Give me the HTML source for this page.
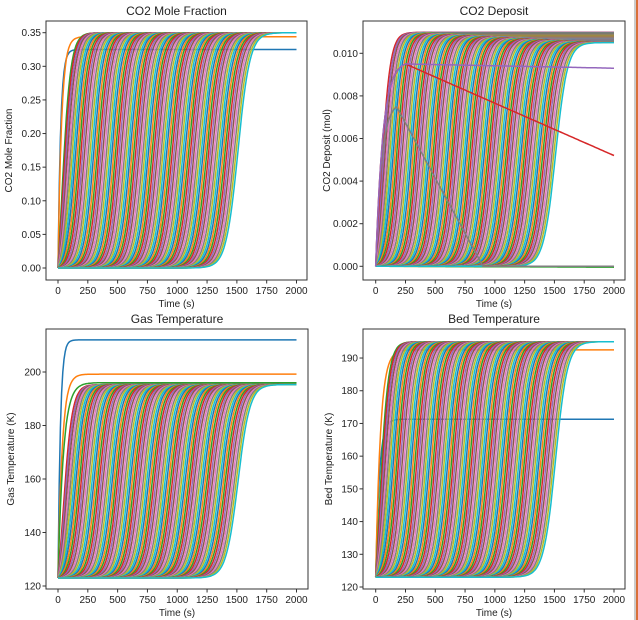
<!DOCTYPE html>
<html><head><meta charset="utf-8"><style>
html,body{margin:0;padding:0;background:#fff;width:638px;height:620px;overflow:hidden}
svg{display:block;font-family:"Liberation Sans","DejaVu Sans",sans-serif}
</style></head><body>
<svg id="s" width="638" height="620" xmlns="http://www.w3.org/2000/svg"></svg>
<script>
const S=document.getElementById('s');const NS='http://www.w3.org/2000/svg';
function el(n,a,t){const e=document.createElementNS(NS,n);for(const k in a)e.setAttribute(k,a[k]);if(t!==undefined)e.textContent=t;S.appendChild(e);return e;}
const C=['#1f77b4','#ff7f0e','#2ca02c','#d62728','#9467bd','#8c564b','#e377c2','#7f7f7f','#bcbd22','#17becf'];
const N=100;
function sig(x){return 1/(1+Math.exp(-x));}
function g(t,i){const m=-5+i*15.3, s=38+12*(i/N);const a=sig((0-m)/s);return (sig((t-m)/s)-a)/(1-a);}
function panel(P){
  const {L,R,T,B,x0,x2,yv,title,ylab,yt,fmt,fn,id,extra}=P;
  const px=t=>x0+t/2000*(x2-x0);
  const cp=el('clipPath',{id:id});const r=document.createElementNS(NS,'rect');r.setAttribute('x',L);r.setAttribute('y',T);r.setAttribute('width',R-L);r.setAttribute('height',B-T);cp.appendChild(r);
  const gr=el('g',{'clip-path':'url(#'+id+')'});
  const add=(d,c)=>{const p=document.createElementNS(NS,'path');p.setAttribute('d',d);p.setAttribute('fill','none');p.setAttribute('stroke',c);p.setAttribute('stroke-width','1.5');gr.appendChild(p);};
  for(let i=0;i<N;i++){
    let d='';for(let t=0;t<=2000;t+=10){const v=fn(t,i);d+=(t?'L':'M')+px(t).toFixed(1)+' '+yv(v).toFixed(1);}
    add(d,C[i%10]);
  }
  if(extra)extra.forEach(([f,c])=>{let d='';for(let t=0;t<=2000;t+=10){d+=(t?'L':'M')+px(t).toFixed(1)+' '+yv(f(t)).toFixed(1);}add(d,c);});
  el('rect',{x:L,y:T,width:R-L,height:B-T,fill:'none',stroke:'#333','stroke-width':1});
  for(let t=0;t<=2000;t+=250){const x=px(t);el('line',{x1:x,x2:x,y1:B,y2:B+3.5,stroke:'#333'});el('text',{x:x,y:B+14,'font-size':10,'text-anchor':'middle',fill:'#222'},t);}
  yt.forEach(v=>{const y=yv(v);el('line',{x1:L,x2:L-3.5,y1:y,y2:y,stroke:'#333'});el('text',{x:L-5,y:y+3.5,'font-size':10,'text-anchor':'end',fill:'#222'},fmt(v));});
  el('text',{x:(L+R)/2,y:B+27,'font-size':10,'text-anchor':'middle',fill:'#222'},'Time (s)');
  el('text',{x:(L+R)/2,y:T-6,'font-size':12,'text-anchor':'middle',fill:'#222'},title);
  const yl=P.ylx, ym=(T+B)/2;el('text',{x:yl,y:ym,'font-size':10,'text-anchor':'middle',fill:'#222',transform:`rotate(-90 ${yl} ${ym})`},ylab);
}
panel({id:'c1',L:46,R:307,T:21,B:280,x0:58,x2:296.5,yv:v=>268-v/0.35*235.3,title:'CO2 Mole Fraction',ylab:'CO2 Mole Fraction',ylx:12,
 yt:[0,0.05,0.1,0.15,0.2,0.25,0.3,0.35],fmt:v=>v.toFixed(2),
 fn:(t,i)=>{if(i==0)return 0.325*(1-Math.exp(-t/22));if(i==1)return 0.344*(1-Math.exp(-t/30));return 0.35*g(t,i);}});
panel({id:'c2',L:363,R:625,T:21,B:280,x0:375.7,x2:614,yv:v=>266.3-v/0.002*42.6,title:'CO2 Deposit',ylab:'CO2 Deposit (mol)',ylx:330,
 yt:[0,0.002,0.004,0.006,0.008,0.010],fmt:v=>v.toFixed(3),
 fn:(t,i)=>{if(i<3)return -0.00002*i*(t/2000);const top=0.011-0.0005*(i/N);return top*g(t,i);},
 extra:[[t=>t<175?0.0075*(1-Math.exp(-t/50))/(1-Math.exp(-3.5)):Math.max(0,0.0075-(t-175)/725*0.0075),'#7f7f7f'],
  [t=>t<250?0.0095*(1-Math.exp(-t/60))/(1-Math.exp(-250/60)):0.0095-(t-250)/1750*0.0043,'#d62728'],
  [t=>t<250?0.0095*(1-Math.exp(-t/60))/(1-Math.exp(-250/60)):0.0095-(t-250)/1750*0.0002,'#9467bd']]});
panel({id:'c3',L:46,R:308,T:329,B:589,x0:58,x2:296.5,yv:v=>586-(v-120)*2.675,title:'Gas Temperature',ylab:'Gas Temperature (K)',ylx:14,
 yt:[120,140,160,180,200],fmt:v=>v,
 fn:(t,i)=>{if(i==0)return 123+(212-123)*(1-Math.exp(-t/20));if(i==1)return 123+(199.2-123)*(1-Math.exp(-t/35));if(i==2)return 123+(196-123)*(1-Math.exp(-t/45));return 123+(195.3-123)*g(t,i);}});
panel({id:'c4',L:363,R:625,T:329,B:589,x0:375.7,x2:614,yv:v=>587-(v-120)*3.271,title:'Bed Temperature',ylab:'Bed Temperature (K)',ylx:332,
 yt:[120,130,140,150,160,170,180,190],fmt:v=>v,
 fn:(t,i)=>{if(i==0)return 123+(171.3-123)*(1-Math.exp(-t/30));if(i==1)return 123+(192.5-123)*(1-Math.exp(-t/40));return 123+(195-123)*g(t,i);}});
el('line',{x1:635,x2:635,y1:0,y2:620,stroke:'#999','stroke-width':1});
el('rect',{x:636,y:0,width:2,height:620,fill:'#d9703a'});
</script>
</body></html>
